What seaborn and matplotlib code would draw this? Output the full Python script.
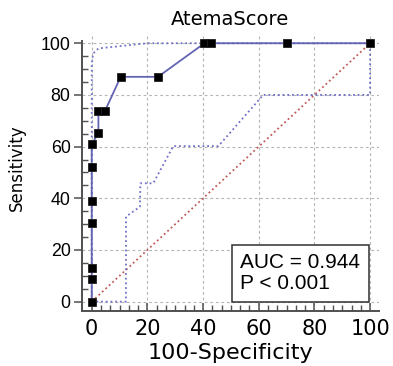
import numpy as np
import pandas as pd
import matplotlib
matplotlib.use("Agg")
import matplotlib.pyplot as plt
from matplotlib.ticker import FixedLocator
import seaborn as sns

# ---- data ----
roc_fpr = [0, 0, 0, 0, 0, 0, 0, 2.4, 2.4, 4.8, 10.4, 23.8, 40.5, 42.9, 70.0, 100]
roc_tpr = [0, 8.7, 13.0, 30.4, 39.1, 52.2, 60.9, 65.2, 73.9, 73.9, 87.0, 87.0, 100, 100, 100, 100]

upper_fpr = [0, 0, 0.5, 2.4, 20.0, 100]
upper_tpr = [0, 92, 96, 98, 100, 100]

lower_fpr = [0, 12.3, 12.3, 17.3, 17.5, 22.1, 29.3, 45.5, 61.6, 100, 100]
lower_tpr = [0, 0, 32.9, 36.7, 45.8, 45.8, 60.2, 60.2, 80.0, 80.0, 100]

diag_x = [0, 100]
diag_y = [0, 100]

major_ticks = [0, 20, 40, 60, 80, 100]
title = "AtemaScore"
xlabel = "100-Specificity"
ylabel = "Sensitivity"
auc_text = "AUC = 0.944\nP < 0.001"

sns.set_theme(style="white")
plt.rcParams["font.family"] = ["DejaVu Sans"]

fig = plt.figure(figsize=(3.93, 3.66), dpi=100)
ax = fig.add_axes([0.2079, 0.1511, 0.7565, 0.759])

band_col = "#7070c8"
dot = (0, (1.0, 1.6))

sns.lineplot(x=diag_x, y=diag_y, ax=ax, color="#c05a5a", lw=1.3, ls=dot,
             estimator=None, sort=False, zorder=2)
sns.lineplot(x=upper_fpr, y=upper_tpr, ax=ax, color=band_col, lw=1.3, ls=dot,
             estimator=None, sort=False, zorder=2)
sns.lineplot(x=lower_fpr, y=lower_tpr, ax=ax, color=band_col, lw=1.3, ls=dot,
             estimator=None, sort=False, zorder=2)
sns.lineplot(x=roc_fpr, y=roc_tpr, ax=ax, color="#6464b4", lw=1.3,
             estimator=None, sort=False, marker="s", markersize=6.3,
             markerfacecolor="black", markeredgecolor="#202020",
             markeredgewidth=0.6, zorder=4)

ax.set_xlim(-3.6, 103.2)
ax.set_ylim(-3.5, 104)

ax.xaxis.set_major_locator(FixedLocator(major_ticks))
ax.yaxis.set_major_locator(FixedLocator(major_ticks))
ax.xaxis.set_minor_locator(FixedLocator(list(np.arange(0, 100.01, 20 / 6))))
ax.yaxis.set_minor_locator(FixedLocator(list(np.arange(0, 100.01, 5))))

ax.grid(True, which="major", ls=(0, (2.5, 2.5)), color="#b4b4b4", lw=0.8)
ax.set_axisbelow(True)

for s in ["top", "right"]:
    ax.spines[s].set_visible(False)
for s in ["left", "bottom"]:
    ax.spines[s].set_color("#505050")
    ax.spines[s].set_linewidth(1.4)
ax.spines["left"].set_bounds(-3.5, 100.8)

ax.tick_params(axis="x", which="both", bottom=True, top=False)
ax.tick_params(axis="y", which="both", left=True, right=False)
ax.tick_params(axis="x", which="major", direction="in", length=6, width=1.1,
               color="#505050", pad=6, labelcolor="black")
ax.tick_params(axis="x", which="minor", direction="in", length=4, width=1.0,
               color="#505050")
ax.tick_params(axis="y", which="major", direction="out", length=6, width=1.1,
               color="#505050", pad=2, labelcolor="black")
ax.tick_params(axis="y", which="minor", direction="in", length=4.5, width=1.0,
               color="#505050")
ax.set_xticklabels([str(t) for t in major_ticks], family="DejaVu Sans", fontsize=15)
ax.set_yticklabels([str(t) for t in major_ticks], family="Liberation Sans", fontsize=12.8)

ax.set_xlabel(xlabel, fontsize=16, family="DejaVu Sans", labelpad=3, color="black")
fig.text(0.043, 0.543, ylabel, rotation=90, ha="center", va="center",
         fontsize=12, family="DejaVu Sans", color="black")
ax.set_title(title, fontsize=14, family="DejaVu Sans", pad=6, color="black")

ax.annotate(auc_text, xy=(100, 0), xycoords="data", xytext=(-7.0, 6.0),
            textcoords="offset points", ha="right", va="bottom",
            multialignment="left", color="black",
            fontsize=15, family="Liberation Sans", linespacing=1.15,
            bbox=dict(boxstyle="square,pad=0.4", fc="white", ec="#303030", lw=1.1),
            zorder=6)

fig.savefig("out.png", dpi=100, facecolor="white")
